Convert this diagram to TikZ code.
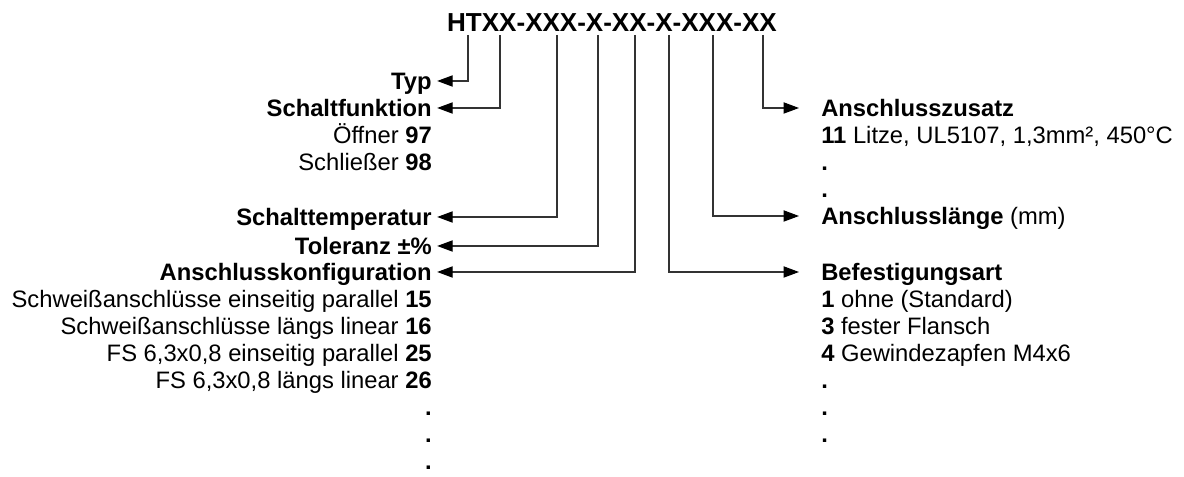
\documentclass[tikz,border=0pt]{standalone}
\usepackage{fontspec}
\setmainfont{Liberation Sans}
\usetikzlibrary{arrows.meta,positioning,calc}

\begin{document}
\begin{tikzpicture}[
    x=0.025cm, y=-0.025cm,
    hd/.style={inner sep=0pt, text height=12.2pt, text depth=0pt, font=\fontsize{16.9pt}{20pt}\selectfont\bfseries},
    it/.style={inner sep=0pt, text height=12.2pt, text depth=0pt, font=\fontsize{16.9pt}{20pt}\selectfont},
    arl/.style={-{Triangle[length=11pt, width=8pt, color=black]}, line width=0.75pt, draw=black!80, shorten >=0.13cm},
    arr/.style={-{Triangle[length=11pt, width=8pt, color=black]}, line width=0.75pt, draw=black!80, shorten >=0.55cm}
]
    \useasboundingbox (0,0) rectangle (1184,477);

    % type code
    \node [anchor=base, inner sep=0pt, font=\fontsize{18.5pt}{22pt}\selectfont\bfseries] (code) at (612,32) {HTXX-XXX-X-XX-X-XXX-XX};
    \coordinate (t1) at (468,35);
    \coordinate (t2) at (500,35);
    \coordinate (t3) at (557,35);
    \coordinate (t4) at (598,35);
    \coordinate (t5) at (635,35);
    \coordinate (t6) at (669,35);
    \coordinate (t7) at (713,35);
    \coordinate (t8) at (763,35);

    % left side
    \node [hd, anchor=east] (typ) at (432,81) {Typ};
    \node [hd, anchor=east] (sfkt) at (432,108) {Schaltfunktion};
    \foreach \t [count=\i] in {{Öffner \textbf{97}}, {Schließer \textbf{98}}}
        \node [it, anchor=east] (sf\i) at (432,108+27*\i) {\t};
    \node [hd, anchor=east] (stemp) at (432,217) {Schalttemperatur};
    \node [hd, anchor=east] (tol) at (432,246) {Toleranz ±\%};
    \node [hd, anchor=east] (akonf) at (432,272) {Anschlusskonfiguration};
    \foreach \t [count=\i] in {{Schweißanschlüsse einseitig parallel \textbf{15}},
                               {Schweißanschlüsse längs linear \textbf{16}},
                               {FS 6,3x0,8 einseitig parallel \textbf{25}},
                               {FS 6,3x0,8 längs linear \textbf{26}},
                               \textbf{.}, \textbf{.}, \textbf{.}}
        \node [it, anchor=east] (ak\i) at (432,272+27*\i) {\t};

    % right side
    \node [hd, anchor=west] (zus) at (821,108) {Anschlusszusatz};
    \foreach \t [count=\i] in {{\textbf{11} Litze, UL5107, 1,3mm², 450°C}, \textbf{.}, \textbf{.}}
        \node [it, anchor=west] (zu\i) at (821,108+27*\i) {\t};
    \node [it, anchor=west] (alen) at (821,216) {\textbf{Anschlusslänge} (mm)};
    \node [hd, anchor=west] (bef) at (821,272) {Befestigungsart};
    \foreach \t [count=\i] in {{\textbf{1} ohne (Standard)}, {\textbf{3} fester Flansch},
                               {\textbf{4} Gewindezapfen M4x6}, \textbf{.}, \textbf{.}, \textbf{.}}
        \node [it, anchor=west] (be\i) at (821,272+27*\i) {\t};

    % connectors
    \draw [arl] (t1) |- (typ);
    \draw [arl] (t2) |- (sfkt);
    \draw [arl] (t3) |- (stemp);
    \draw [arl] (t4) |- (tol);
    \draw [arl] (t5) |- (akonf);
    \draw [arr] (t6) |- (bef);
    \draw [arr] (t7) |- (alen);
    \draw [arr] (t8) |- (zus);
\end{tikzpicture}
\end{document}
